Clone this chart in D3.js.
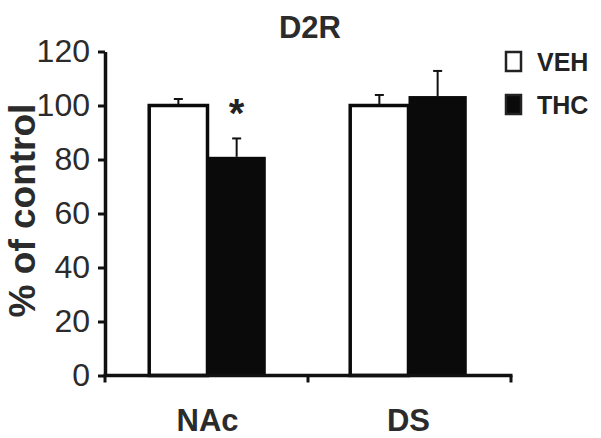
<!DOCTYPE html>
<html>
<head>
<meta charset="utf-8">
<script src="https://cdn.jsdelivr.net/npm/d3@7"></script>
<style>
  html, body { margin: 0; padding: 0; background: #fff; }
  svg { display: block; font-family: "Liberation Sans", Arial, Helvetica, sans-serif; }
</style>
</head>
<body>
<svg id="chart" width="601" height="438"></svg>
<script>
// ---- data ----
const categories = ["NAc", "DS"];
const groups = ["VEH", "THC"];
const vehMeans = [100, 100];
const vehErrors = [2.4, 3.9];
const thcMeans = [81, 103.5];
const thcErrors = [6.8, 9.3];
const significant = ["NAc"]; // THC vs VEH
const yTicks = [0, 20, 40, 60, 80, 100, 120];
const titleText = "D2R";
const yLabel = "% of control";

// ---- layout ----
const svg = d3.select("#chart");
const plotLeft = 105, plotRight = 511, plotTop = 51.5, plotBottom = 375.5;

const y = d3.scaleLinear().domain([0, 120]).range([plotBottom, plotTop]);
const x0 = d3.scaleBand().domain(categories).range([plotLeft, plotRight])
  .paddingInner(0.42).paddingOuter(0.22);
const x1 = d3.scaleBand().domain(groups).range([0, x0.bandwidth()]).padding(0);
const fills = d3.scaleOrdinal().domain(groups).range(["#ffffff", "#0a0a0a"]);

const rows = [];
categories.forEach((c, i) => {
  rows.push({cat: c, grp: "VEH", mean: vehMeans[i], err: vehErrors[i]});
  rows.push({cat: c, grp: "THC", mean: thcMeans[i], err: thcErrors[i]});
});

// bars
svg.append("g").selectAll("rect").data(rows).join("rect")
  .attr("x", d => x0(d.cat) + x1(d.grp))
  .attr("y", d => y(d.mean))
  .attr("width", x1.bandwidth())
  .attr("height", d => y(0) - y(d.mean))
  .attr("fill", d => fills(d.grp))
  .attr("stroke", "#0a0a0a")
  .attr("stroke-width", d => d.grp === "VEH" ? 3.5 : 0);

// error bars (upper only)
const eb = svg.append("g").attr("stroke", "#111").attr("stroke-width", 2);
rows.forEach(d => {
  const cx = x0(d.cat) + x1(d.grp) + x1.bandwidth() / 2;
  eb.append("line").attr("x1", cx).attr("x2", cx)
    .attr("y1", y(d.mean)).attr("y2", y(d.mean + d.err));
  eb.append("line").attr("x1", cx - 4.5).attr("x2", cx + 4.5)
    .attr("y1", y(d.mean + d.err)).attr("y2", y(d.mean + d.err));
});

// significance asterisk
rows.filter(d => d.grp === "THC" && significant.includes(d.cat)).forEach(d => {
  svg.append("text")
    .attr("x", x0(d.cat) + x1(d.grp) + x1.bandwidth() / 2)
    .attr("y", y(d.mean + d.err) - 11)
    .attr("text-anchor", "middle")
    .attr("font-weight", "bold")
    .attr("font-size", 40)
    .attr("fill", "#222")
    .text("*");
});

// y axis
const yAxis = svg.append("g")
  .attr("transform", `translate(${plotLeft},0)`)
  .call(d3.axisLeft(y).tickValues(yTicks).tickSize(7).tickSizeOuter(0).tickPadding(8));
yAxis.select(".domain").attr("stroke", "#111").attr("stroke-width", 3.5);
yAxis.selectAll(".tick line").attr("stroke", "#111").attr("stroke-width", 3);
yAxis.selectAll(".tick text")
  .attr("font-size", 32)
  .attr("font-family", "'Liberation Sans', Arial, sans-serif")
  .attr("fill", "#2b2b2b");

// x axis with boundary ticks
const xg = svg.append("g").attr("stroke", "#111").attr("stroke-width", 3.5);
xg.append("line").attr("x1", plotLeft - 1.5).attr("x2", plotRight + 1.5)
  .attr("y1", y(0)).attr("y2", y(0));
const boundaries = [plotLeft,
  (x0(categories[0]) + x0.bandwidth() + x0(categories[1])) / 2,
  plotRight];
boundaries.forEach(b => {
  xg.append("line").attr("x1", b).attr("x2", b)
    .attr("y1", y(0)).attr("y2", y(0) + 7).attr("stroke-width", 3);
});

// category labels
const xAxis = svg.append("g")
  .attr("transform", `translate(0,${y(0)})`)
  .call(d3.axisBottom(x0).tickSize(0).tickPadding(33));
xAxis.select(".domain").remove();
xAxis.selectAll(".tick text")
  .attr("font-size", 31)
  .attr("font-weight", "bold")
  .attr("font-family", "'Liberation Sans', Arial, sans-serif")
  .attr("fill", "#2b2b2b");

// title
svg.append("text")
  .attr("x", 310).attr("y", 38)
  .attr("text-anchor", "middle")
  .attr("font-weight", "bold")
  .attr("font-size", 31)
  .attr("fill", "#2b2b2b")
  .text(titleText);

// y label
svg.append("text")
  .attr("transform", `translate(35,${(y(0) + y(120)) / 2 - 3}) rotate(-90)`)
  .attr("text-anchor", "middle")
  .attr("font-weight", "bold")
  .attr("font-size", 37)
  .attr("fill", "#2b2b2b")
  .text(yLabel);

// legend
const legend = svg.append("g");
groups.forEach((g, i) => {
  const ly = 52 + i * 43;
  legend.append("rect")
    .attr("x", 506).attr("y", ly)
    .attr("width", 15).attr("height", 19)
    .attr("fill", fills(g))
    .attr("stroke", "#222").attr("stroke-width", 2.5);
  legend.append("text")
    .attr("x", 537).attr("y", ly + 19)
    .attr("font-weight", "bold")
    .attr("font-size", 25)
    .attr("fill", "#222")
    .text(g);
});
</script>
</body>
</html>
